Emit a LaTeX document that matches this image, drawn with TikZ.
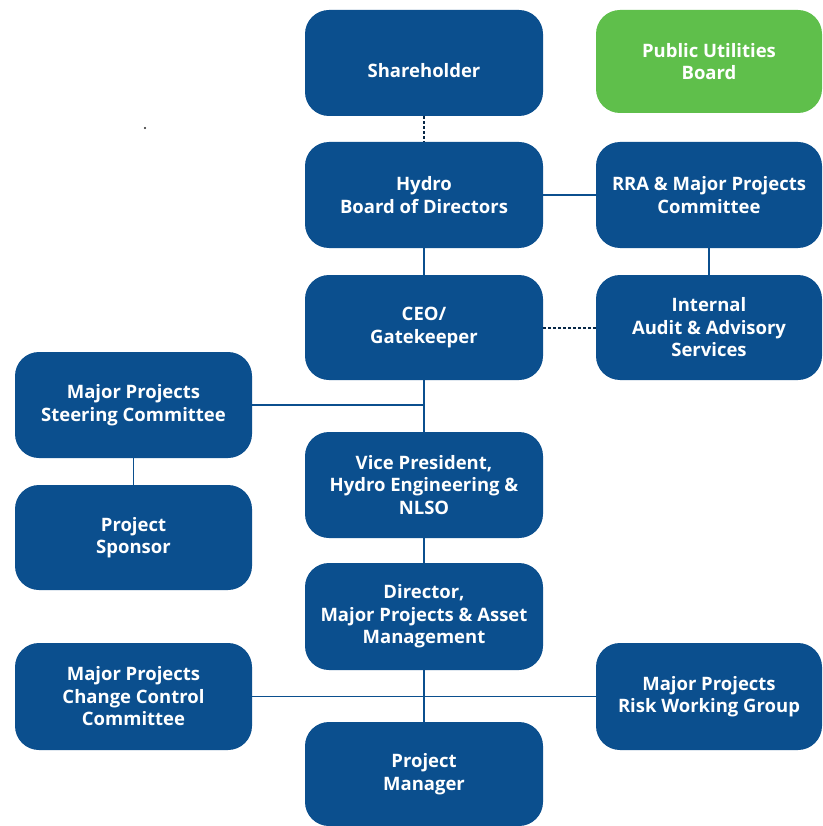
\documentclass[tikz,border=0pt]{standalone}
\usepackage{fontspec}
\setmainfont{Open Sans}
\definecolor{hblue}{HTML}{0B4F8E}
\definecolor{hgreen}{HTML}{5FBF4B}
\begin{document}
\begin{tikzpicture}[x=1pt,y=-1pt,
  box/.style={fill=hblue, rounded corners=24pt, text=white,
    font=\bfseries\fontsize{18.5}{22.5}\selectfont, align=center,
    inner sep=0pt, minimum width=238pt, minimum height=106pt},
  rbox/.style={box, minimum width=226pt},
  lbox/.style={box, minimum width=237pt},
  link/.style={draw=hblue, line width=1.8pt},
  dlink/.style={draw=hblue!50!black, line width=2pt, dash pattern=on 3pt off 2pt}]
\fill[white] (0,0) rectangle (822,826);
\useasboundingbox (0,0) rectangle (822,826);

\node[box] (sh) at (424,63) {\rule{0pt}{30pt}Shareholder};
\node[rbox, fill=hgreen, minimum height=103pt] (pub) at (709,61.5) {Public Utilities\\Board};
\node[box] (bod) at (424,195) {Hydro\\Board of Directors};
\node[rbox] (rra) at (709,195) {RRA \& Major Projects\\Committee};
\node[box, minimum height=105pt] (ceo) at (424,327.5) {CEO/\\Gatekeeper};
\node[rbox, minimum height=105pt] (ias) at (709,327.5) {Internal\\Audit \& Advisory\\Services};
\node[lbox] (msc) at (133.5,405) {Major Projects\\Steering Committee};
\node[box] (vp) at (424,485) {Vice President,\\Hydro Engineering \&\\NLSO};
\node[lbox, minimum height=105pt] (sp) at (133.5,537.5) {Project\\Sponsor};
\node[box, minimum height=107pt] (dir) at (424,616.5) {Director,\\Major Projects \& Asset\\Management};
\node[lbox, minimum height=107pt] (ccc) at (133.5,696.5) {Major Projects\\Change Control\\Committee};
\node[rbox, minimum height=107pt] (risk) at (709,696.5) {Major Projects\\Risk Working Group};
\node[box, minimum height=104pt] (pm) at (424,774) {Project\\Manager};

\coordinate (j1) at (424,405);
\fill[black!85] (145,128) circle (1.2pt);

\draw[dlink] (sh) -- (bod);
\draw[link] (bod) -- (rra);
\draw[link] (bod) -- (ceo);
\draw[link] (rra) -- (ias);
\draw[dlink] (ceo) -- (ias);
\draw[link] (ceo) -- (vp);
\draw[link] (msc) -- (j1);
\draw[link] (msc) -- (sp);
\draw[link] (vp) -- (dir);
\draw[link] (dir) -- (pm);
\draw[link] (ccc) -- (risk);
\end{tikzpicture}
\end{document}
